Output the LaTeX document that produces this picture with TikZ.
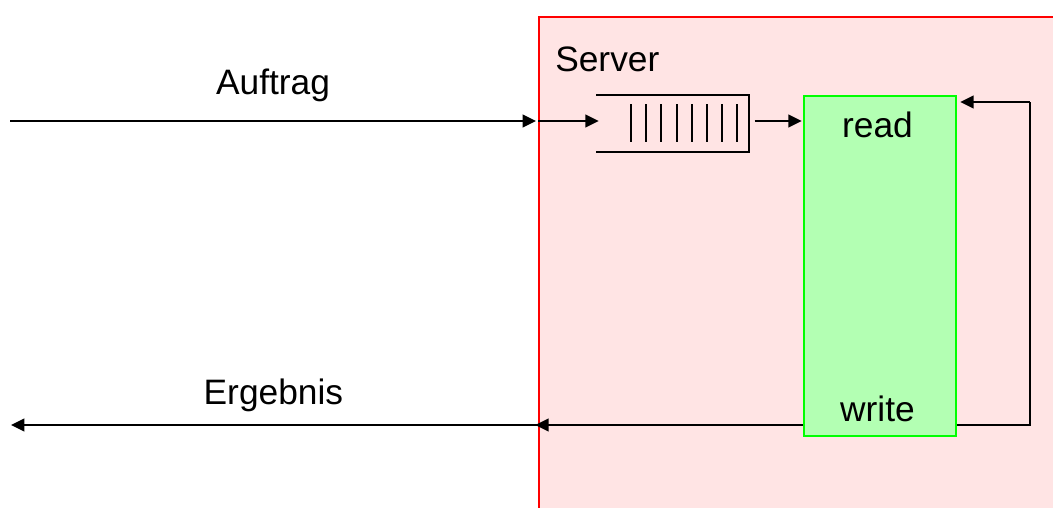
\documentclass[tikz,border=0pt]{standalone}
\usepackage{fontspec}
\setmainfont{Liberation Sans}
\usetikzlibrary{arrows.meta,calc}
\definecolor{serverfill}{HTML}{FFE4E4}
\definecolor{procfill}{HTML}{B3FFB3}
\definecolor{procline}{HTML}{00FF00}
\begin{document}
\begin{tikzpicture}[x=0.75pt,y=-0.75pt,
  lbl/.style={font=\fontsize{26.5pt}{30pt}\selectfont, inner sep=0pt, anchor=base},
  conn/.style={line width=1.5pt, -{Triangle[length=10pt,width=9.5pt]}},
  plain/.style={line width=1.5pt},
  serverbox/.style={draw=red, fill=serverfill, line width=1.5pt, minimum width=540*0.75pt, minimum height=520*0.75pt, anchor=north west, inner sep=0pt},
  procbox/.style={draw=procline, fill=procfill, line width=1.5pt, minimum width=152*0.75pt, minimum height=340*0.75pt, anchor=north west, inner sep=0pt},
  queuebox/.style={minimum width=152*0.75pt, minimum height=56.6*0.75pt, anchor=north west, inner sep=0pt}
]
\useasboundingbox (0,0) rectangle (1053,507);
\clip (0,0) rectangle (1053,507);
\fill[white] (0,0) rectangle (1053,507);
% server
\node[serverbox] (server) at (538,16) {};
\node[lbl, anchor=base west] (servlbl) at (555,71.7) {Server};
% queue
\node[queuebox] (q) at (596,94.7) {};
\draw[plain] (q.north west) -- (q.north east) -- (q.south east) -- (q.south west);
\foreach \x in {631,646.2,661.4,676.6,691.8,707,722.2,737.4}
  \draw[plain] (\x,104) -- (\x,142.3);
% process
\node[procbox] (proc) at (803,94.7) {};
\node[lbl] (rd) at (877.5,137.3) {read};
\node[lbl] (wr) at (877.5,421.3) {write};
% coordinates
\coordinate (a0) at (10,121);
\coordinate (b0) at (11,425);
\coordinate (lp) at (1030,425);
\coordinate (lt) at (1030,102);
% labels
\node[lbl] (auf) at (273,94) {Auftrag};
\node[lbl] (erg) at (273.4,404.3) {Ergebnis};
% connectors
\draw[conn, shorten >=1.5pt] (a0) -- (a0 -| server.west);
\draw[conn, shorten >=-2pt] (a0 -| server.west) -- (a0 -| q.west);
\draw[conn, shorten >=1pt] ($(q.east |- a0)+(6,0)$) -- (proc.west |- a0);
\draw[plain] (proc.east |- lp) -- (lp) -- (lt);
\draw[conn, shorten >=2.5pt] (lt) -- (proc.east |- lt);
\draw[conn, shorten >=-2pt] (proc.west |- lp) -- (server.west |- lp);
\draw[conn] (server.west |- lp) -- (b0);
\end{tikzpicture}
\end{document}
